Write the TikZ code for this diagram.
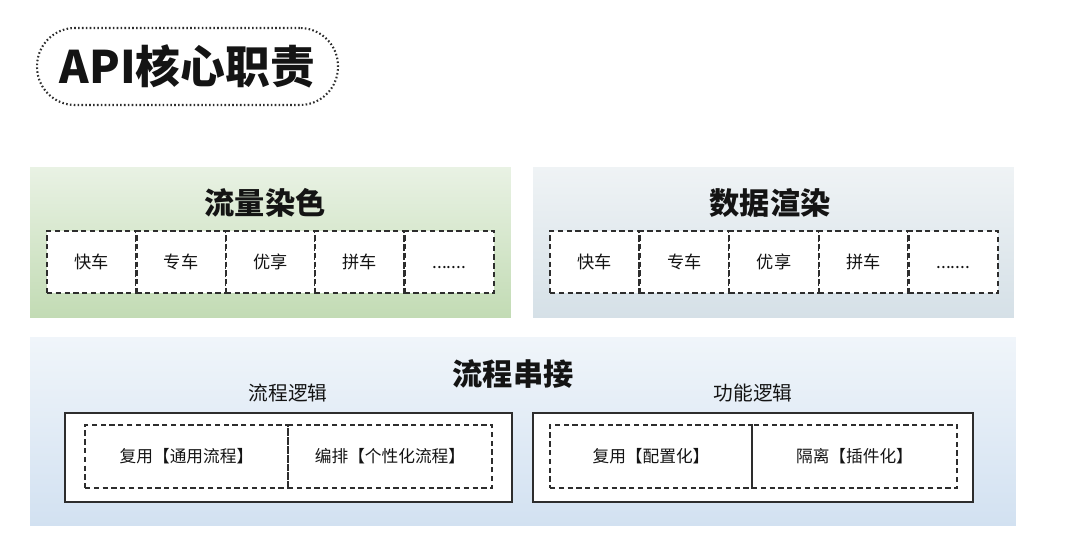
\documentclass[tikz,border=0pt]{standalone}
\usepackage{fontspec}
\setmainfont{Noto Sans CJK SC}
\usepackage{tikz}
\usetikzlibrary{positioning}
\definecolor{ApiInk}{RGB}{20,20,20}
\definecolor{ApiEdge}{RGB}{45,45,45}
\definecolor{ApiGreenTop}{RGB}{233,242,228}
\definecolor{ApiGreenBot}{RGB}{194,219,180}
\definecolor{ApiSlateTop}{RGB}{239,243,245}
\definecolor{ApiSlateBot}{RGB}{213,224,231}
\definecolor{ApiBlueTop}{RGB}{240,245,250}
\definecolor{ApiBlueBot}{RGB}{210,225,241}
\newcommand{\apidots}{\vphantom{快}.......}
\tikzset{
  api/pill/.style={
    draw=ApiEdge,
    line width=1.2pt,
    dash pattern=on 0.9pt off 1.3pt,
    rounded corners=0.76cm,
    minimum width=6.02cm,
    minimum height=1.54cm,
    inner sep=0pt,
    text=ApiInk,
    font=\fontsize{25.5}{30}\selectfont\bfseries
  },
  api/panel/.style={
    draw=none,
    inner sep=0pt,
    outer sep=0pt
  },
  api/title/.style={font=\fontsize{17.2}{20}\selectfont\bfseries, text=ApiInk},
  api/sub/.style={font=\fontsize{11.2}{13}\selectfont, text=ApiInk},
  api/cell/.style={
    draw=ApiEdge,
    line width=1.4pt,
    dash pattern=on 3pt off 2pt,
    fill=white,
    minimum width=1.79cm,
    minimum height=1.25cm,
    inner sep=0pt,
    text=ApiInk,
    font=\fontsize{9.8}{12}\selectfont
  },
  api/frame/.style={
    draw=ApiEdge,
    line width=1.2pt,
    fill=white,
    minimum height=1.78cm,
    inner sep=0pt
  },
  api/slot/.style={
    draw=ApiEdge,
    line width=1.2pt,
    dash pattern=on 3pt off 2pt,
    minimum height=1.26cm,
    inner sep=0pt,
    text=ApiInk,
    font=\fontsize{9.5}{12}\selectfont
  }
}

\begin{document}
\begin{tikzpicture}[x=0.02cm,y=-0.02cm]
  \useasboundingbox (0,0) rectangle (1080,548);
  % title
  \node[api/pill] (title) at (187.5,66.5) {API核心职责};
  % upper panels
  \node[api/panel,top color=ApiGreenTop,bottom color=ApiGreenBot,minimum width=9.62cm,minimum height=3.02cm] (dye) at (270.5,242.5) {};
  \node[api/panel,top color=ApiSlateTop,bottom color=ApiSlateBot,minimum width=9.62cm,minimum height=3.02cm] (render) at (773.5,242.5) {};
  \node[api/title] (dyetitle) at (265,203) {流量染色};
  \node[api/title] (rendertitle) at (770,203) {数据渲染};
  \foreach \lbl [count=\i] in {快车,专车,优享,拼车,\apidots}{
    \node[api/cell] (dye\i) at ({91.7+(\i-1)*89.4},262) {\lbl};
    \node[api/cell] (render\i) at ({594.8+(\i-1)*89.6},262) {\lbl};
  }
  % lower panel
  \node[api/panel,top color=ApiBlueTop,bottom color=ApiBlueBot,minimum width=19.72cm,minimum height=3.78cm] (chain) at (523,431.5) {};
  \node[api/title] (chaintitle) at (513,374) {流程串接};
  \node[api/sub] (flowtitle) at (288,393) {流程逻辑};
  \node[api/sub] (functitle) at (753,393) {功能逻辑};
  \node[api/frame,minimum width=8.94cm] (flow) at (288.5,457.5) {};
  \node[api/frame,minimum width=8.8cm] (func) at (753,457.5) {};
  \node[api/slot,minimum width=4.06cm] (reuse) at (186.5,456.5) {复用【通用流程】};
  \node[api/slot,minimum width=4.08cm] (orchestrate) at (390,456.5) {编排【个性化流程】};
  \node[api/slot,minimum width=4.04cm] (config) at (651,456.5) {复用【配置化】};
  \node[api/slot,minimum width=4.1cm] (plugin) at (854.5,456.5) {隔离【插件化】};
\end{tikzpicture}
\end{document}
